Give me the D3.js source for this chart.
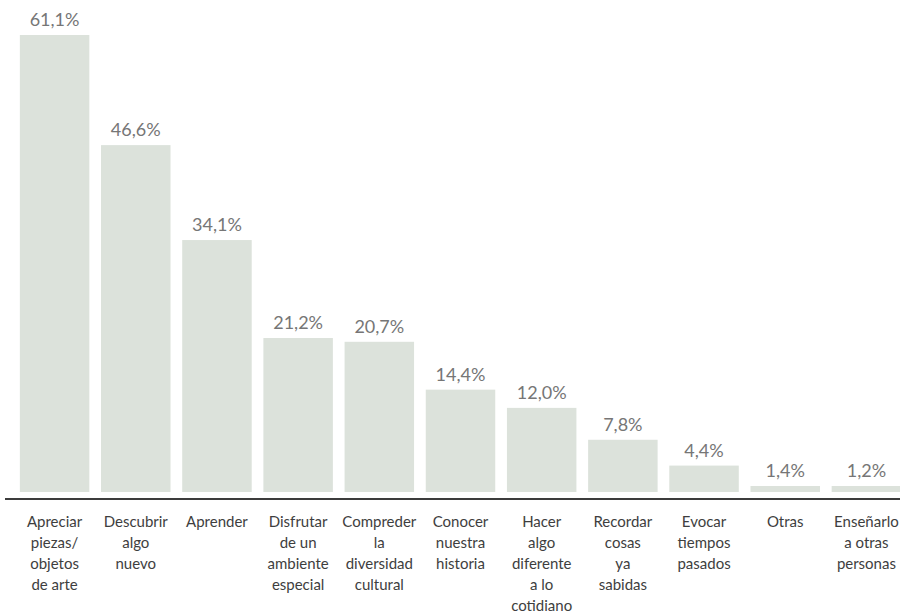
<!DOCTYPE html>
<html>
<head>
<meta charset="utf-8">
<script src="https://cdn.jsdelivr.net/npm/d3@7"></script>
<style>
  body { margin: 0; background: #fff; }
  svg { display: block; }
  text { font-family: Lato, "Open Sans", sans-serif; }
</style>
</head>
<body>
<script>
let width = 900
let height = 614

// one entry per bar, label lines as shown under the axis
let categories = [
    ['Apreciar', 'piezas/', 'objetos', 'de arte'],
    ['Descubrir', 'algo', 'nuevo'],
    ['Aprender'],
    ['Disfrutar', 'de un', 'ambiente', 'especial'],
    ['Compreder', 'la', 'diversidad', 'cultural'],
    ['Conocer', 'nuestra', 'historia'],
    ['Hacer', 'algo', 'diferente', 'a lo', 'cotidiano'],
    ['Recordar', 'cosas', 'ya', 'sabidas'],
    ['Evocar', 'tiempos', 'pasados'],
    ['Otras'],
    ['Enseñarlo', 'a otras', 'personas']
]
let values = [61.1, 46.6, 34.1, 21.2, 20.7, 14.4, 12.0, 7.8, 4.4, 1.4, 1.2]

let barColor = '#dce2db'
let baseline = 499
let barGap = 7
let minVisible = 6

let locale = d3.formatLocale({ decimal: ',', thousands: '.', grouping: [3], currency: ['', ''] })
let fmt = locale.format('.1f')

let keys = categories.map((c, i) => i)

let x = d3.scaleBand()
    .domain(keys)
    .range([14, 907])
    .paddingInner(0.144)
    .paddingOuter(0.072)

let y = d3.scaleLinear()
    .domain([0, 61.1])
    .range([baseline, 35])

function barTop(v) {
    return Math.min(y(v), baseline - barGap - minVisible)
}

function makeCanvas() {
    let svg = d3.select('body')
        .append('svg')
        .attr('width', width)
        .attr('height', height)

    svg.selectAll('rect.bar')
        .data(values)
        .enter()
        .append('rect')
        .attr('class', 'bar')
        .attr('x', (d, i) => x(i))
        .attr('y', d => barTop(d))
        .attr('width', x.bandwidth())
        .attr('height', d => baseline - barGap - barTop(d))
        .attr('fill', barColor)

    svg.selectAll('text.value')
        .data(values)
        .enter()
        .append('text')
        .attr('class', 'value')
        .attr('x', (d, i) => x(i) + x.bandwidth() / 2)
        .attr('y', d => barTop(d) - 9)
        .attr('text-anchor', 'middle')
        .attr('font-size', 18)
        .attr('fill', '#767676')
        .text(d => fmt(d) + '%')

    svg.append('line')
        .attr('x1', 5)
        .attr('x2', width)
        .attr('y1', baseline)
        .attr('y2', baseline)
        .attr('stroke', '#3c3c3c')
        .attr('stroke-width', 2)

    let cats = svg.selectAll('text.cat')
        .data(categories)
        .enter()
        .append('text')
        .attr('class', 'cat')
        .attr('text-anchor', 'middle')
        .attr('font-size', 15)
        .attr('fill', '#3e3e3e')

    cats.selectAll('tspan')
        .data((d, i) => d.map(line => ({ line: line, i: i })))
        .enter()
        .append('tspan')
        .attr('x', d => x(d.i) + x.bandwidth() / 2)
        .attr('y', (d, k) => 527 + k * 21)
        .text(d => d.line)
}

window.onload = function() {
    makeCanvas()
}
</script>
</body>
</html>
